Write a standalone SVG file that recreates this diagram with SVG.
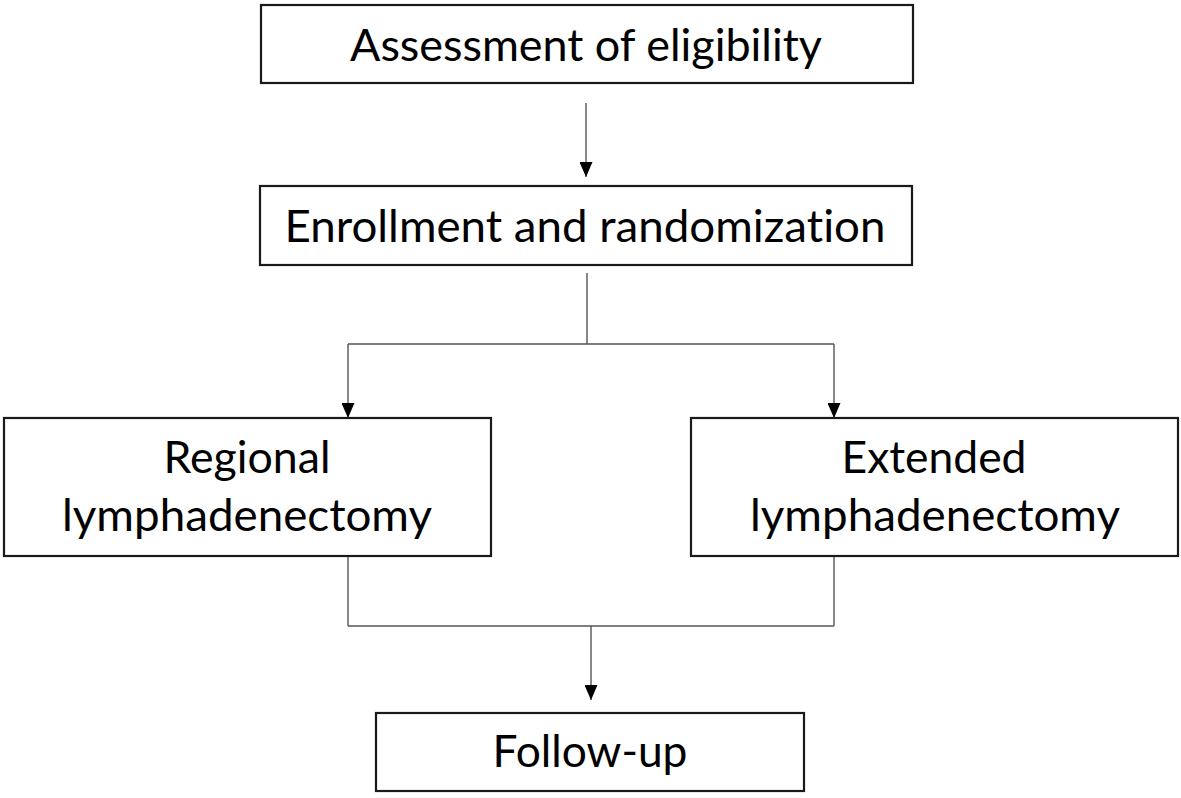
<svg xmlns="http://www.w3.org/2000/svg" width="1181" height="798" viewBox="0 0 1181 798">
<style>
.box{fill:#fff;stroke:#1a1a1a;stroke-width:2.2}
.lbl{font-family:Lato,"Open Sans","Liberation Sans",sans-serif;font-size:45px;fill:#000;text-anchor:middle;font-variant-ligatures:none}
.con{fill:none;stroke:#555;stroke-width:1.4}
</style>
<defs>
<marker id="ah" markerUnits="userSpaceOnUse" markerWidth="16" markerHeight="13" refX="15" refY="6.5" orient="auto">
<path d="M0,0 L15,6.5 L0,13 z" fill="#000"/>
</marker>
</defs>
<rect width="1181" height="798" fill="#fff"/>
<g id="connectors">
<path class="con" d="M586,103 V177" marker-end="url(#ah)"/>
<path class="con" d="M587,273 V344"/>
<path class="con" d="M348,344 H834"/>
<path class="con" d="M348,344 V418" marker-end="url(#ah)"/>
<path class="con" d="M834,344 V418" marker-end="url(#ah)"/>
<path class="con" d="M348,556 V626"/>
<path class="con" d="M834,556 V626"/>
<path class="con" d="M348,626 H834"/>
<path class="con" d="M591,626 V700" marker-end="url(#ah)"/>
</g>
<g id="assessment">
<rect class="box" x="261" y="5" width="652" height="78"/>
<text class="lbl" x="586" y="61" textLength="472" lengthAdjust="spacingAndGlyphs">Assessment of eligibility</text>
</g>
<g id="enrollment">
<rect class="box" x="260" y="186" width="652" height="79"/>
<text class="lbl" x="585" y="242" textLength="601" lengthAdjust="spacingAndGlyphs">Enrollment and randomization</text>
</g>
<g id="regional">
<rect class="box" x="4" y="418" width="487" height="138"/>
<text class="lbl" x="247" y="473" textLength="167" lengthAdjust="spacingAndGlyphs">Regional</text>
<text class="lbl" x="247" y="531" textLength="370" lengthAdjust="spacingAndGlyphs">lymphadenectomy</text>
</g>
<g id="extended">
<rect class="box" x="691" y="418" width="487" height="138"/>
<text class="lbl" x="934" y="473" textLength="185" lengthAdjust="spacingAndGlyphs">Extended</text>
<text class="lbl" x="935" y="531" textLength="370" lengthAdjust="spacingAndGlyphs">lymphadenectomy</text>
</g>
<g id="followup">
<rect class="box" x="376" y="713" width="428" height="78"/>
<text class="lbl" x="590" y="767" textLength="195" lengthAdjust="spacingAndGlyphs">Follow-up</text>
</g>
</svg>
